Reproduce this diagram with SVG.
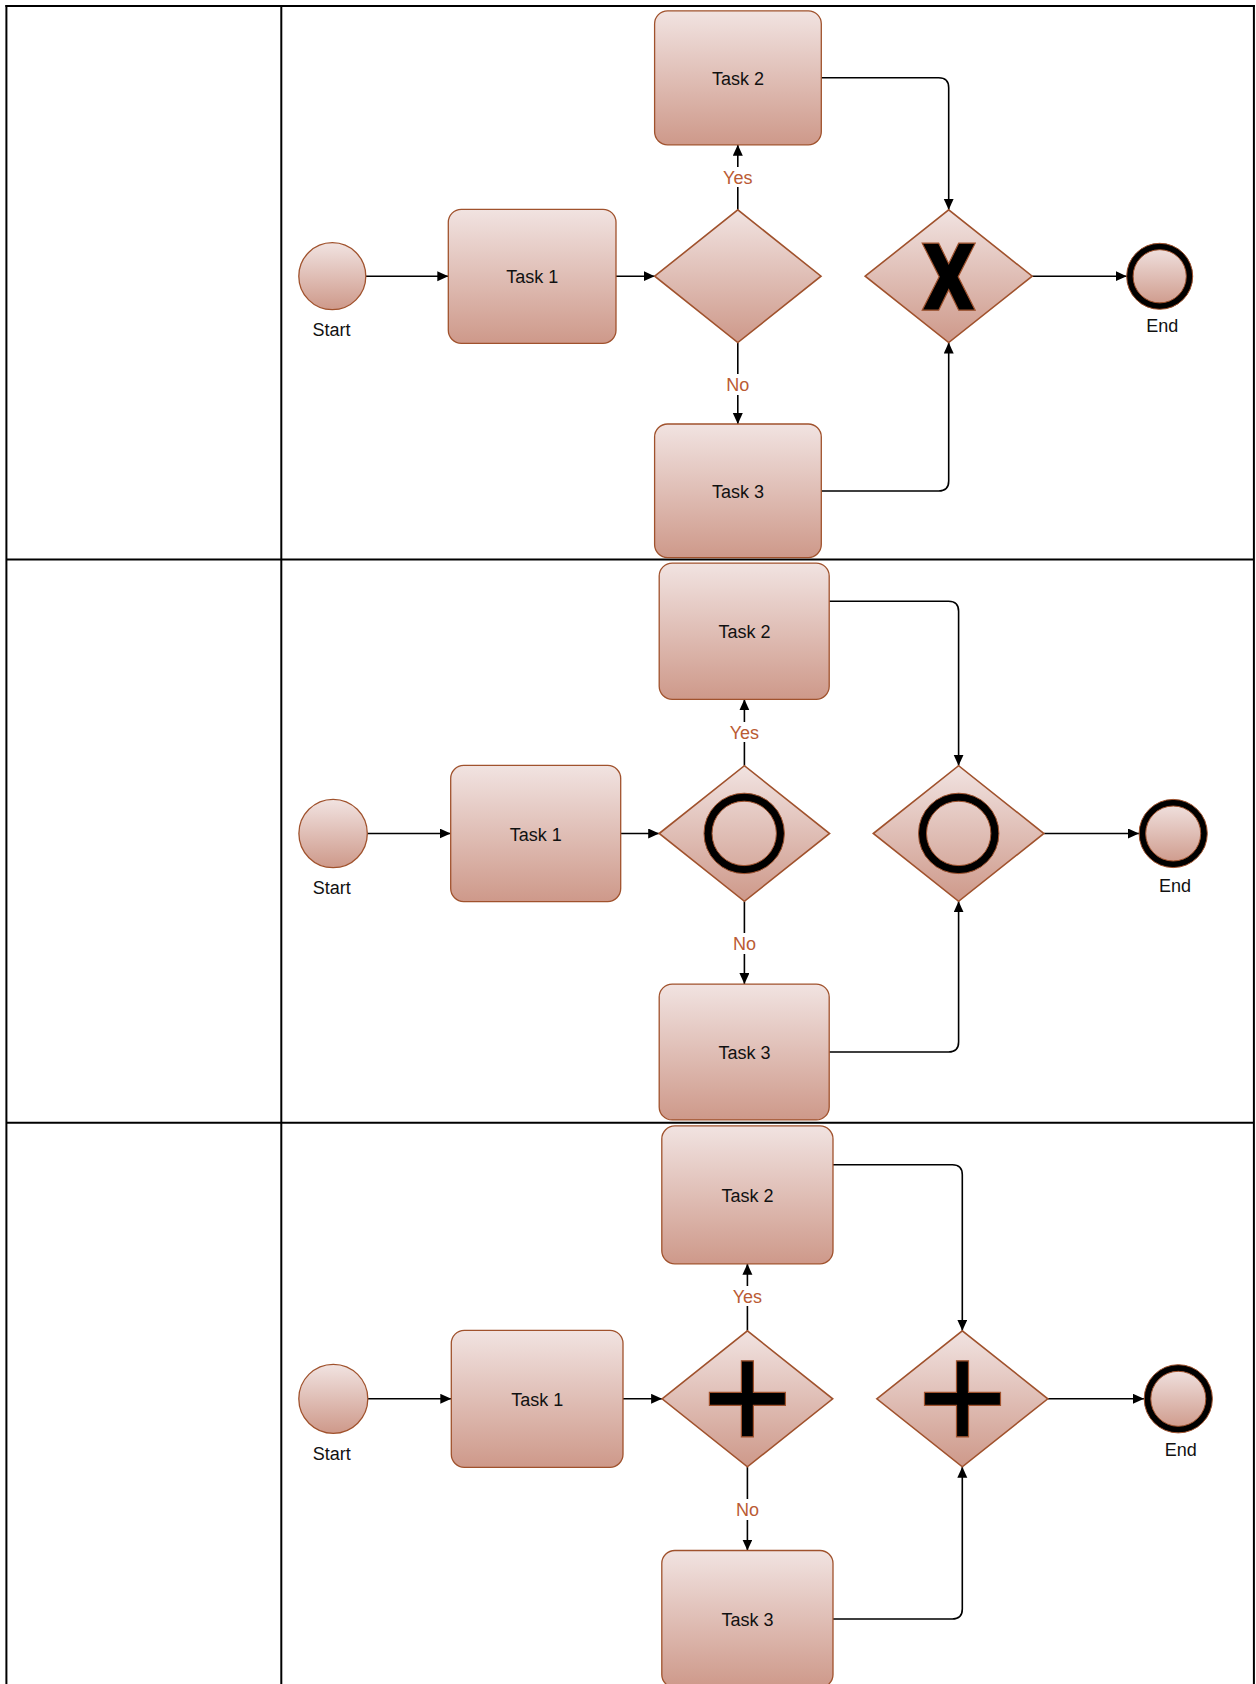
<svg xmlns="http://www.w3.org/2000/svg" xmlns:xlink="http://www.w3.org/1999/xlink" width="1256" height="1684" viewBox="0 0 1256 1684">
  <defs>
    <linearGradient id="fillGrad" x1="0" y1="0" x2="0" y2="1">
      <stop offset="0" stop-color="#F1E3E1"/>
      <stop offset="1" stop-color="#CE998A"/>
    </linearGradient>
    <marker id="arrow" markerUnits="userSpaceOnUse" markerWidth="12" markerHeight="11" refX="11" refY="5" orient="auto">
      <path d="M0,0 L11,5 L0,10 Z" fill="#000"/>
    </marker>
    <!-- gateway markers, drawn at the origin -->
    <polygon id="xMark" points="-26.5,-33.5 -10,-33.5 0,-13 10,-33.5 26.5,-33.5 9.5,0 26.5,33.5 10,33.5 0,13 -10,33.5 -26.5,33.5 -9.5,0" fill="#000" stroke="#A0522D" stroke-width="1.2" stroke-linejoin="miter"/>
    <g id="oMark">
      <circle r="36.2" fill="none" stroke="#000" stroke-width="8"/>
      <circle r="40.2" fill="none" stroke="#A0522D" stroke-width="1"/>
      <circle r="32.2" fill="none" stroke="#A0522D" stroke-width="1"/>
    </g>
    <polygon id="plusMark" points="-6,-38 6,-38 6,-6.5 38,-6.5 38,6.5 6,6.5 6,38 -6,38 -6,6.5 -38,6.5 -38,-6.5 -6,-6.5" fill="#000" stroke="#A0522D" stroke-width="1.2"/>
  </defs>
  <style>
    .frame { stroke: #000; stroke-width: 2; fill: none; }
    .shape { fill: url(#fillGrad); stroke: #A0522D; stroke-width: 1.3; }
    .gw { fill: url(#fillGrad); stroke: #A0522D; stroke-width: 1.6; }
    .endRing { fill: none; stroke: #000; stroke-width: 6.5; }
    .endEdge { fill: none; stroke: #A0522D; stroke-width: 1; }
    .lbl { font-family: "Liberation Sans", Arial, sans-serif; font-size: 18px; fill: #111; text-anchor: middle; }
    .edgeLbl { font-family: "Liberation Sans", Arial, sans-serif; font-size: 18px; fill: #BA5B34; text-anchor: middle; }
    .edge { fill: none; stroke: #000; stroke-width: 1.6; marker-end: url(#arrow); }
    .lblBg { fill: #fff; }
  </style>

  <rect width="1256" height="1684" fill="#fff"/>

  <!-- pool frame and lanes -->
  <g id="pool">
    <line class="frame" x1="5.4" y1="6" x2="1254.9" y2="6"/>
    <line class="frame" x1="6.4" y1="5" x2="6.4" y2="1684"/>
    <line class="frame" x1="1253.9" y1="5" x2="1253.9" y2="1684"/>
    <line class="frame" x1="281.3" y1="6" x2="281.3" y2="1684"/>
    <line class="frame" x1="6.4" y1="559.5" x2="1253.9" y2="559.5"/>
    <line class="frame" x1="6.4" y1="1122.7" x2="1253.9" y2="1122.7"/>
  </g>

  <!-- connectors -->
  <g id="connectors">
    <!-- lane 1 -->
    <path class="edge" d="M365.8,276.2 H448.3"/>
    <path class="edge" d="M616,276.2 H654.7"/>
    <path class="edge" d="M737.8,209.8 V144.8"/>
    <path class="edge" d="M737.8,342.6 V424"/>
    <path class="edge" d="M821.3,77.7 H938.7 Q948.7,77.7 948.7,87.7 V209.8"/>
    <path class="edge" d="M821.3,491 H938.7 Q948.7,491 948.7,481 V342.6"/>
    <path class="edge" d="M1032.2,276.2 H1126.7"/>
    <rect class="lblBg" x="720.8" y="167" width="34" height="20"/>
    <text class="edgeLbl" x="737.8" y="183.7">Yes</text>
    <rect class="lblBg" x="723.8" y="374" width="28" height="21"/>
    <text class="edgeLbl" x="737.8" y="391">No</text>

    <!-- lane 2 -->
    <path class="edge" d="M367.3,833.5 H450.7"/>
    <path class="edge" d="M620.7,833.5 H659.2"/>
    <path class="edge" d="M744.4,765.7 V699.3"/>
    <path class="edge" d="M744.4,901.3 V984.1"/>
    <path class="edge" d="M829.2,601.2 H948.6 Q958.6,601.2 958.6,611.2 V765.7"/>
    <path class="edge" d="M829.2,1052 H948.6 Q958.6,1052 958.6,1042 V901.3"/>
    <path class="edge" d="M1043.9,833.5 H1139"/>
    <rect class="lblBg" x="727.4" y="722" width="34" height="20"/>
    <text class="edgeLbl" x="744.4" y="739">Yes</text>
    <rect class="lblBg" x="730.4" y="933" width="28" height="21"/>
    <text class="edgeLbl" x="744.4" y="950">No</text>

    <!-- lane 3 -->
    <path class="edge" d="M367.8,1398.8 H451.3"/>
    <path class="edge" d="M623,1398.8 H662.1"/>
    <path class="edge" d="M747.4,1330.8 V1263.8"/>
    <path class="edge" d="M747.4,1466.8 V1550.5"/>
    <path class="edge" d="M833,1164.7 H952.3 Q962.3,1164.7 962.3,1174.7 V1330.8"/>
    <path class="edge" d="M833,1619 H952.3 Q962.3,1619 962.3,1609 V1466.8"/>
    <path class="edge" d="M1047.8,1398.8 H1144"/>
    <rect class="lblBg" x="730.4" y="1286" width="34" height="20"/>
    <text class="edgeLbl" x="747.4" y="1302.6">Yes</text>
    <rect class="lblBg" x="733.4" y="1499" width="28" height="21"/>
    <text class="edgeLbl" x="747.4" y="1516">No</text>
  </g>

  <!-- lane 1: exclusive gateways -->
  <g id="l1-start">
    <circle class="shape" cx="332.3" cy="276.2" r="33.5"/>
    <text class="lbl" x="331.5" y="336">Start</text>
  </g>
  <g id="l1-task1">
    <rect class="shape" x="448.3" y="209.3" width="167.7" height="134" rx="13"/>
    <text class="lbl" x="532.2" y="283.2">Task 1</text>
  </g>
  <g id="l1-split">
    <polygon class="gw" points="654.7,276.2 737.8,209.8 821,276.2 737.8,342.6"/>
  </g>
  <g id="l1-task2">
    <rect class="shape" x="654.6" y="10.8" width="166.7" height="134" rx="13"/>
    <text class="lbl" x="738" y="84.7">Task 2</text>
  </g>
  <g id="l1-task3">
    <rect class="shape" x="654.6" y="424" width="166.7" height="133.6" rx="13"/>
    <text class="lbl" x="738" y="498">Task 3</text>
  </g>
  <g id="l1-join">
    <polygon class="gw" points="865.2,276.2 948.7,209.8 1032.2,276.2 948.7,342.6"/>
    <use xlink:href="#xMark" href="#xMark" transform="translate(948.7,276.7)"/>
  </g>
  <g id="l1-end">
    <circle class="shape" cx="1159.7" cy="276.3" r="30"/>
    <circle class="endRing" cx="1159.7" cy="276.3" r="29.8"/>
    <circle class="endEdge" cx="1159.7" cy="276.3" r="33"/>
    <circle class="endEdge" cx="1159.7" cy="276.3" r="26.6"/>
    <text class="lbl" x="1162.3" y="332.3">End</text>
  </g>

  <!-- lane 2: inclusive gateways -->
  <g id="l2-start">
    <circle class="shape" cx="333.1" cy="833.5" r="34.2"/>
    <text class="lbl" x="331.7" y="894.3">Start</text>
  </g>
  <g id="l2-task1">
    <rect class="shape" x="450.7" y="765.4" width="170" height="136.2" rx="13"/>
    <text class="lbl" x="535.7" y="840.5">Task 1</text>
  </g>
  <g id="l2-split">
    <polygon class="gw" points="659.2,833.5 744.4,765.7 829.6,833.5 744.4,901.3"/>
    <use xlink:href="#oMark" href="#oMark" transform="translate(744.2,833.4)"/>
  </g>
  <g id="l2-task2">
    <rect class="shape" x="659.2" y="563.1" width="170" height="136.2" rx="13"/>
    <text class="lbl" x="744.4" y="638.2">Task 2</text>
  </g>
  <g id="l2-task3">
    <rect class="shape" x="659.2" y="984.1" width="170" height="135.8" rx="13"/>
    <text class="lbl" x="744.4" y="1059">Task 3</text>
  </g>
  <g id="l2-join">
    <polygon class="gw" points="873.3,833.5 958.6,765.7 1043.9,833.5 958.6,901.3"/>
    <use xlink:href="#oMark" href="#oMark" transform="translate(958.7,833.4)"/>
  </g>
  <g id="l2-end">
    <circle class="shape" cx="1173.2" cy="833.5" r="31"/>
    <circle class="endRing" cx="1173.2" cy="833.5" r="30.8"/>
    <circle class="endEdge" cx="1173.2" cy="833.5" r="34.1"/>
    <circle class="endEdge" cx="1173.2" cy="833.5" r="27.5"/>
    <text class="lbl" x="1175" y="891.7">End</text>
  </g>

  <!-- lane 3: parallel gateways -->
  <g id="l3-start">
    <circle class="shape" cx="333.3" cy="1398.8" r="34.5"/>
    <text class="lbl" x="331.7" y="1460.3">Start</text>
  </g>
  <g id="l3-task1">
    <rect class="shape" x="451.3" y="1330.3" width="171.7" height="137" rx="13"/>
    <text class="lbl" x="537.2" y="1405.8">Task 1</text>
  </g>
  <g id="l3-split">
    <polygon class="gw" points="662.1,1398.8 747.4,1330.8 832.7,1398.8 747.4,1466.8"/>
    <use xlink:href="#plusMark" href="#plusMark" transform="translate(747.4,1398.8)"/>
  </g>
  <g id="l3-task2">
    <rect class="shape" x="661.8" y="1125.9" width="171.2" height="137.9" rx="13"/>
    <text class="lbl" x="747.4" y="1201.8">Task 2</text>
  </g>
  <g id="l3-task3">
    <rect class="shape" x="661.8" y="1550.5" width="171.2" height="137" rx="13"/>
    <text class="lbl" x="747.4" y="1626">Task 3</text>
  </g>
  <g id="l3-join">
    <polygon class="gw" points="876.8,1398.8 962.3,1330.8 1047.8,1398.8 962.3,1466.8"/>
    <use xlink:href="#plusMark" href="#plusMark" transform="translate(962.5,1398.8)"/>
  </g>
  <g id="l3-end">
    <circle class="shape" cx="1178.3" cy="1398.8" r="31"/>
    <circle class="endRing" cx="1178.3" cy="1398.8" r="30.8"/>
    <circle class="endEdge" cx="1178.3" cy="1398.8" r="34.1"/>
    <circle class="endEdge" cx="1178.3" cy="1398.8" r="27.5"/>
    <text class="lbl" x="1180.7" y="1456">End</text>
  </g>
</svg>
